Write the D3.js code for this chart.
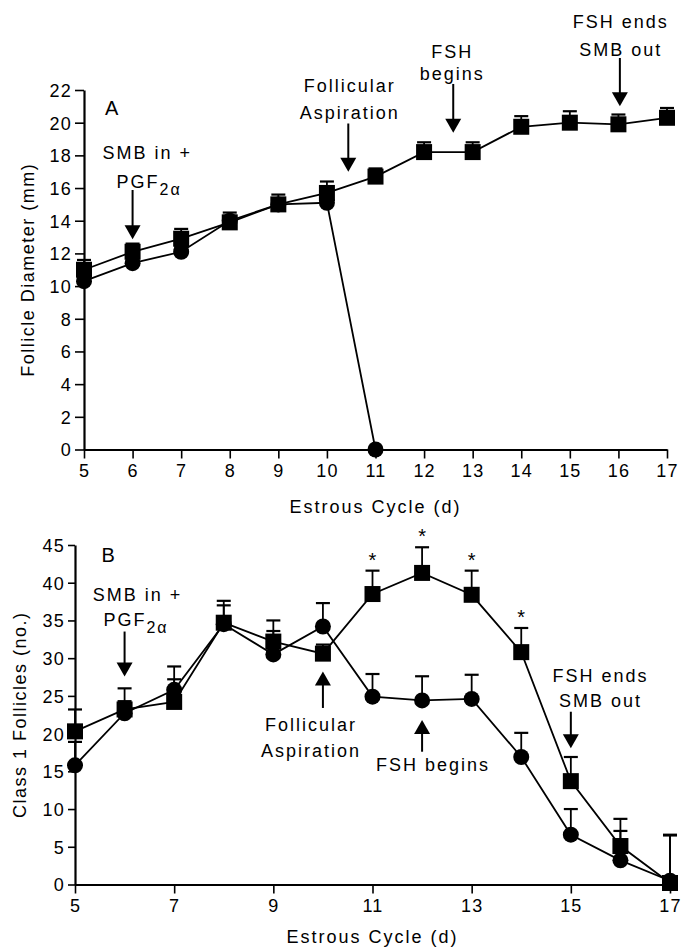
<!DOCTYPE html>
<html>
<head>
<meta charset="utf-8">
<script src="https://cdn.jsdelivr.net/npm/d3@7/dist/d3.min.js"></script>
<style>
  body { margin: 0; background: #fff; }
  text { font-family: "Liberation Sans", Arial, sans-serif; fill: #000; }
</style>
</head>
<body>
<div id="chart"></div>
<script>
// days of the estrous cycle
const days = [5, 6, 7, 8, 9, 10, 11, 12, 13, 14, 15, 16, 17];

// Panel A: follicle diameter (mm)
const diamSquare = [11.0, 12.1, 12.9, 13.9, 15.0, 15.7, 16.7, 18.2, 18.2, 19.75, 20.0, 19.9, 20.3];
const diamSquareErr = [0.6, 0.5, 0.6, 0.6, 0.6, 0.7, 0.5, 0.6, 0.6, 0.65, 0.7, 0.6, 0.6];
const diamCircleDays = [5, 6, 7, 8, 9, 10, 11];
const diamCircle = [10.3, 11.4, 12.1, 14.0, 15.0, 15.1, 0];
const diamCircleErr = [0.3, 0.3, 0.3, 0.3, 0.3, 0.3, 0];
const ticksA = [0, 2, 4, 6, 8, 10, 12, 14, 16, 18, 20, 22];

// Panel B: class 1 follicles (no.)
const countSquare = [20.3, 23.2, 24.2, 34.7, 32.2, 30.6, 38.5, 41.3, 38.4, 30.8, 13.7, 5.1, 0.2];
const countSquareErr = [2.9, 2.8, 3.0, 2.9, 2.8, 1.2, 3.1, 3.4, 3.2, 3.2, 3.2, 3.6, 6.4];
const countCircle = [15.8, 22.7, 25.8, 34.5, 30.5, 34.2, 24.9, 24.4, 24.6, 16.9, 6.6, 3.2, 0.5];
const countCircleErr = [3.1, 1.6, 3.1, 2.5, 3.1, 3.1, 3.0, 3.2, 3.2, 3.2, 3.4, 3.9, 6.0];
const sigDays = [11, 12, 13, 14];
const ticksB = [0, 5, 10, 15, 20, 25, 30, 35, 40, 45];
const xTicksB = [5, 7, 9, 11, 13, 15, 17];

const width = 682, height = 949;
const svg = d3.select("#chart").append("svg")
    .attr("width", width)
    .attr("height", height);

function zip(xs, ys, es) {
  return xs.map((d, i) => ({day: d, v: ys[i], e: es[i]}));
}

function drawPanel(o) {
  const g = svg.append("g");
  const x = d3.scaleLinear().domain([5, 17]).range(o.xRange);
  const y = d3.scaleLinear().domain(o.yDomain).range(o.yRange);

  // axes
  const xAxis = g.append("g")
      .attr("transform", `translate(0,${o.yRange[0]})`)
      .call(d3.axisBottom(x).tickValues(o.xTicks).tickSize(9).tickSizeOuter(0).tickPadding(6).tickFormat(d3.format("d")));
  const yAxis = g.append("g")
      .attr("transform", `translate(${o.xRange[0]},0)`)
      .call(d3.axisLeft(y).tickValues(o.yTicks).tickSize(o.yTick).tickSizeOuter(0).tickPadding(3).tickFormat(d3.format("d")));
  [xAxis, yAxis].forEach(a => {
    a.select(".domain").attr("stroke", "#000").attr("stroke-width", 2.2);
    a.selectAll(".tick line").attr("stroke", "#000").attr("stroke-width", 1.6);
    a.selectAll(".tick text")
        .attr("font-size", 18)
        .attr("letter-spacing", 1.2)
        .attr("fill", "#000")
        .attr("font-family", "Liberation Sans, Arial, sans-serif");
  });
  yAxis.selectAll(".tick text").attr("dy", "0.36em");

  // axis titles
  g.append("text")
      .attr("x", (o.xRange[0] + o.xRange[1]) / 2)
      .attr("y", o.xTitleY)
      .attr("text-anchor", "middle")
      .attr("font-size", 18)
      .attr("letter-spacing", 2)
      .text("Estrous Cycle (d)");
  g.append("text")
      .attr("transform", `translate(${o.yTitleX},${(o.yRange[0] + o.yRange[1]) / 2}) rotate(-90)`)
      .attr("text-anchor", "middle")
      .attr("dy", "0.35em")
      .attr("font-size", 18)
      .attr("letter-spacing", 1.5)
      .text(o.yTitle);

  const line = d3.line().x(d => x(d.day)).y(d => y(d.v));

  o.series.forEach(s => {
    g.append("path")
        .datum(s.data)
        .attr("fill", "none")
        .attr("stroke", "#000")
        .attr("stroke-width", 1.8)
        .attr("d", line);
  });

  // upper error bars
  o.series.forEach(s => {
    const eb = g.append("g").attr("stroke", "#000");
    eb.selectAll("line.stem").data(s.data.filter(d => d.e > 0)).join("line")
        .attr("class", "stem")
        .attr("stroke-width", 1.8)
        .attr("x1", d => x(d.day)).attr("x2", d => x(d.day))
        .attr("y1", d => y(d.v)).attr("y2", d => y(d.v + d.e));
    eb.selectAll("line.cap").data(s.data.filter(d => d.e > 0)).join("line")
        .attr("class", "cap")
        .attr("stroke-width", 2.2)
        .attr("x1", d => x(d.day) - 7).attr("x2", d => x(d.day) + 7)
        .attr("y1", d => y(d.v + d.e)).attr("y2", d => y(d.v + d.e));
  });

  // markers
  o.series.forEach(s => {
    if (s.shape === "square") {
      g.selectAll(null).data(s.data).join("rect")
          .attr("x", d => x(d.day) - 8).attr("y", d => y(d.v) - 8)
          .attr("width", 16).attr("height", 16)
          .attr("fill", "#000");
    } else {
      g.selectAll(null).data(s.data).join("circle")
          .attr("cx", d => x(d.day)).attr("cy", d => y(d.v))
          .attr("r", 8)
          .attr("fill", "#000");
    }
  });

  // annotation text
  o.labels.forEach(l => {
    const t = g.append("text")
        .attr("x", x(l.day))
        .attr("y", y(l.v))
        .attr("text-anchor", "middle")
        .attr("font-size", l.size || 18)
        .attr("letter-spacing", l.size ? 0 : 2);
    if (l.sub) {
      t.append("tspan").text(l.text);
      t.append("tspan").attr("dy", 7).attr("font-size", 16).text(l.sub);
    } else {
      t.text(l.text);
    }
  });

  // arrows
  o.arrows.forEach(a => {
    const ax = x(a.day), y0 = y(a.from), y1 = y(a.to);
    const dir = y1 > y0 ? 1 : -1;
    g.append("line")
        .attr("x1", ax).attr("x2", ax)
        .attr("y1", y0).attr("y2", y1 - dir * 12)
        .attr("stroke", "#000").attr("stroke-width", 2);
    g.append("path")
        .attr("d", `M${ax},${y1} L${ax - 8},${y1 - dir * 14} L${ax + 8},${y1 - dir * 14} Z`)
        .attr("fill", "#000");
  });

  return {g, x, y};
}

// Panel A
drawPanel({
  xRange: [84, 667], yDomain: [0, 22], yRange: [449.5, 90],
  xTicks: days, yTicks: ticksA, yTick: 9,
  xTitleY: 513, yTitleX: 28, yTitle: "Follicle Diameter (mm)",
  series: [
    {shape: "circle", data: zip(diamCircleDays, diamCircle, diamCircleErr)},
    {shape: "square", data: zip(days, diamSquare, diamSquareErr)}
  ],
  labels: [
    {text: "A", day: 5.57, v: 20.5, size: 20},
    {text: "SMB in +", day: 6.3, v: 17.75},
    {text: "PGF", sub: "2α", day: 6.34, v: 16.0},
    {text: "Follicular", day: 10.47, v: 21.85},
    {text: "Aspiration", day: 10.47, v: 20.25},
    {text: "FSH", day: 12.58, v: 23.96},
    {text: "begins", day: 12.58, v: 22.6},
    {text: "FSH ends", day: 16.05, v: 25.8},
    {text: "SMB out", day: 16.05, v: 24.1}
  ],
  arrows: [
    {day: 6, from: 15.88, to: 12.86},
    {day: 10.44, from: 19.95, to: 17.0},
    {day: 12.6, from: 22.37, to: 19.39},
    {day: 16.03, from: 23.96, to: 21.0}
  ]
});

// Panel B
const pB = drawPanel({
  xRange: [75, 670], yDomain: [0, 45], yRange: [884.5, 545],
  xTicks: xTicksB, yTicks: ticksB, yTick: 7,
  xTitleY: 943, yTitleX: 20, yTitle: "Class 1 Follicles (no.)",
  series: [
    {shape: "circle", data: zip(days, countCircle, countCircleErr)},
    {shape: "square", data: zip(days, countSquare, countSquareErr)}
  ],
  labels: [
    {text: "B", day: 5.67, v: 42.77, size: 20},
    {text: "SMB in +", day: 6.26, v: 37.53},
    {text: "PGF", sub: "2α", day: 6.23, v: 34.2},
    {text: "Follicular", day: 9.76, v: 20.3},
    {text: "Aspiration", day: 9.76, v: 16.9},
    {text: "FSH begins", day: 12.22, v: 15.0},
    {text: "FSH ends", day: 15.6, v: 26.8},
    {text: "SMB out", day: 15.6, v: 23.5}
  ],
  arrows: [
    {day: 6, from: 33.53, to: 27.56},
    {day: 10, from: 23.4, to: 28.22},
    {day: 12, from: 17.6, to: 21.8},
    {day: 15, from: 22.9, to: 18.06}
  ]
});

// significance asterisks above the square error bars
pB.g.selectAll(null)
  .data(sigDays.map(d => ({day: d, top: countSquare[days.indexOf(d)] + countSquareErr[days.indexOf(d)]})))
  .join("text")
    .attr("x", d => pB.x(d.day))
    .attr("y", d => pB.y(d.top) - 4)
    .attr("text-anchor", "middle")
    .attr("font-size", 20)
    .text("*");
</script>
</body>
</html>
